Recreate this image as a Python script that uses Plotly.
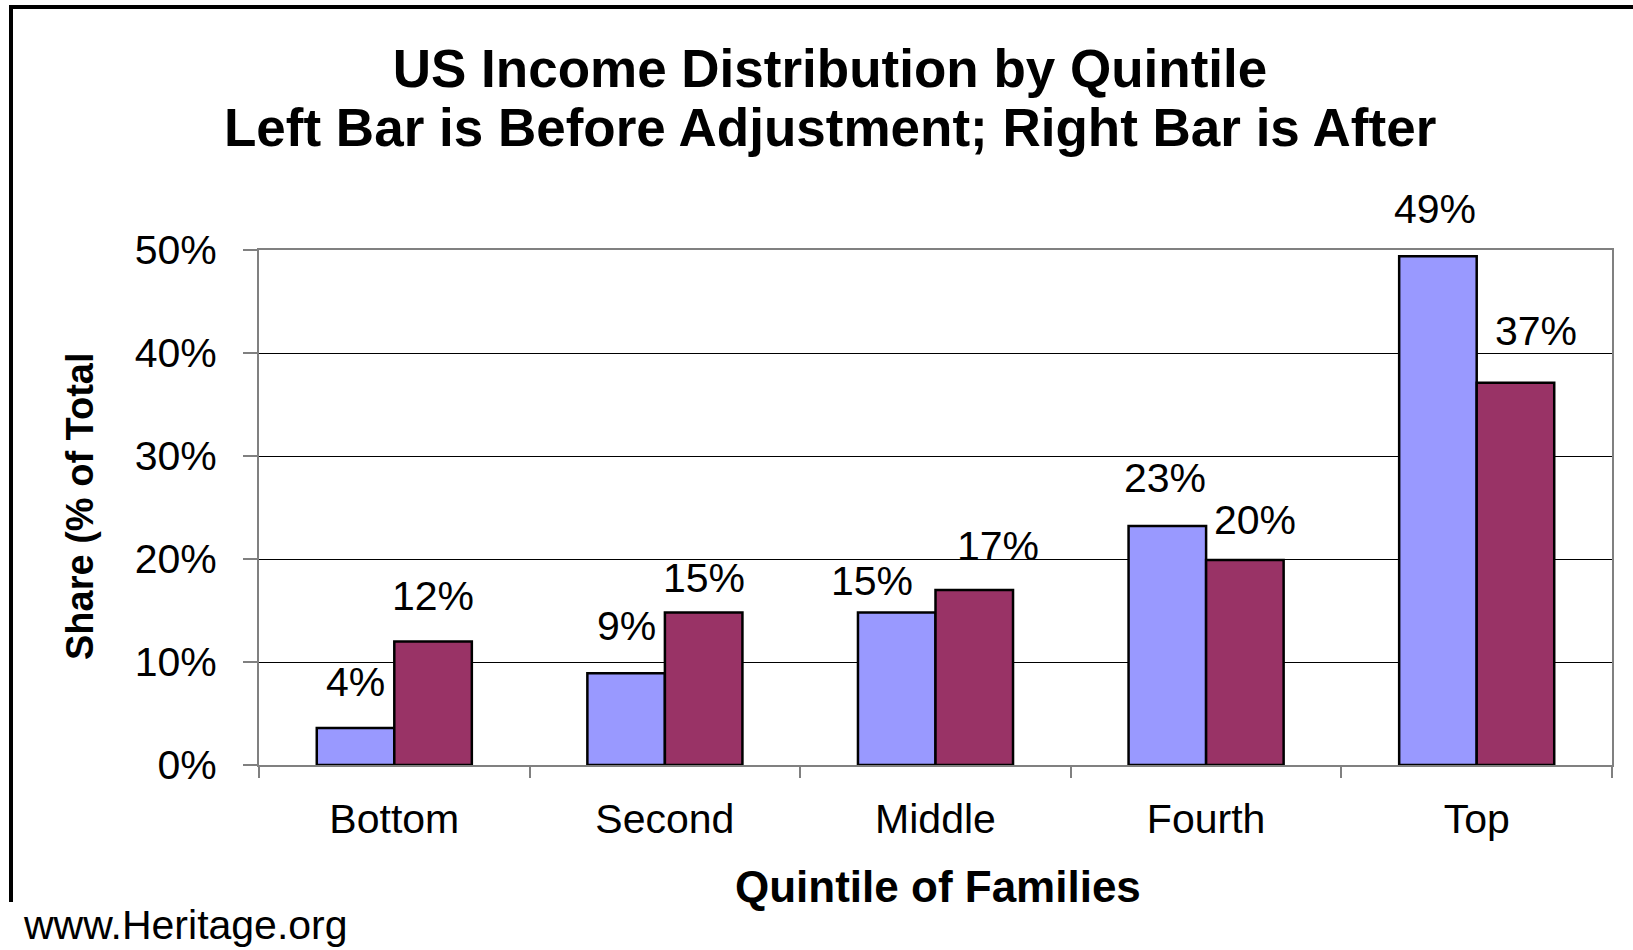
import plotly.graph_objects as go

# ---- data ----
quintiles = ["Bottom", "Second", "Middle", "Fourth", "Top"]
before_adjustment = [3.6, 8.9, 14.8, 23.2, 49.4]
after_adjustment = [12.0, 14.8, 17.0, 19.9, 37.1]
before_labels = ["4%", "9%", "15%", "23%", "49%"]
after_labels = ["12%", "15%", "17%", "20%", "37%"]
y_tick_values = [0, 10, 20, 30, 40, 50]
y_tick_labels = ["0%", "10%", "20%", "30%", "40%", "50%"]
title_line1 = "US Income Distribution by Quintile"
title_line2 = "Left Bar is Before Adjustment; Right Bar is After"

# ---- style / layout constants (pixels) ----
W, H = 1633, 950
ML, MR, MT, MB = 259, 21, 250, 185
PW, PH = W - ML - MR, H - MT - MB
BARGAP = 0.427
FONT = "Liberation Sans, Arial, Helvetica, sans-serif"
BLUE, PLUM = "#9999FF", "#993366"
LABEL_GAP = 21  # base vertical offset of value labels
# per-label nudges (dx, dy) in pixels, mimicking the original label placement
before_nudge = [(0, 0), (0, 1), (-25, -14), (-2, 2), (-3, 1)]
after_nudge = [(0, -1), (0, -11), (24, -2), (10, -6), (21, 6)]


def px_x(px):
    return (px - ML) / PW


def px_y(py):
    return (H - MB - py) / PH


fig = go.Figure()
fig.add_trace(go.Bar(name="Before", x=quintiles, y=before_adjustment,
                     marker=dict(color=BLUE, line=dict(color="black", width=2.5))))
fig.add_trace(go.Bar(name="After", x=quintiles, y=after_adjustment,
                     marker=dict(color=PLUM, line=dict(color="black", width=2.5))))

cat_px = PW / len(quintiles)
half_bar = cat_px * (1 - BARGAP) / 4

annotations = []
for i, q in enumerate(quintiles):
    for vals, labs, nudge, sign in ((before_adjustment, before_labels, before_nudge, -1),
                                    (after_adjustment, after_labels, after_nudge, 1)):
        dx, dy = nudge[i]
        annotations.append(dict(
            x=q, y=vals[i], xref="x", yref="y", text=labs[i], showarrow=False,
            xanchor="center", yanchor="bottom",
            xshift=sign * half_bar + dx, yshift=LABEL_GAP + dy,
            font=dict(family=FONT, size=41, color="black")))

# second title line
annotations.append(dict(text=title_line2, x=px_x(830), y=px_y(128),
                        xref="paper", yref="paper", showarrow=False,
                        xanchor="center", yanchor="middle",
                        font=dict(family=FONT, size=53, color="black", weight="bold")))

# axis titles & source
annotations.append(dict(text="Quintile of Families", x=px_x(938), y=px_y(886),
                        xref="paper", yref="paper", showarrow=False,
                        xanchor="center", yanchor="middle",
                        font=dict(family=FONT, size=44, color="black", weight="bold")))
annotations.append(dict(text="Share (% of Total", x=px_x(80), y=px_y(506),
                        xref="paper", yref="paper", showarrow=False, textangle=-90,
                        xanchor="center", yanchor="middle",
                        font=dict(family=FONT, size=38, color="black", weight="bold")))
annotations.append(dict(text="www.Heritage.org", x=px_x(21), y=px_y(925),
                        xref="paper", yref="paper", showarrow=False,
                        xanchor="left", yanchor="middle",
                        font=dict(family=FONT, size=41, color="black")))

shapes = [
    dict(type="line", xref="paper", yref="paper", x0=px_x(11), x1=px_x(W + 5),
         y0=px_y(7), y1=px_y(7), line=dict(color="black", width=4)),
    dict(type="line", xref="paper", yref="paper", x0=px_x(11), x1=px_x(11),
         y0=px_y(5), y1=px_y(902), line=dict(color="black", width=4)),
]

fig.update_layout(
    width=W, height=H,
    margin=dict(l=ML, r=MR, t=MT, b=MB, autoexpand=False),
    paper_bgcolor="white", plot_bgcolor="white",
    barmode="group", bargap=BARGAP, bargroupgap=0,
    showlegend=False,
    title=dict(text=title_line1,
               x=830 / W, xref="container", xanchor="center",
               y=1 - 68 / H, yref="container", yanchor="middle",
               font=dict(family=FONT, size=53, color="black", weight="bold")),
    font=dict(family=FONT, color="black"),
    annotations=annotations,
    shapes=shapes,
)
fig.update_xaxes(
    type="category", showgrid=False, zeroline=False,
    showline=True, mirror=True, linecolor="#808080", linewidth=2,
    ticks="outside", tickson="boundaries", ticklen=11, tickcolor="#808080", tickwidth=1.5,
    tickfont=dict(family=FONT, size=41, color="black"), ticklabelstandoff=17,
)
fig.update_yaxes(
    range=[0, 50], tickvals=y_tick_values, ticktext=y_tick_labels,
    showgrid=True, gridcolor="black", gridwidth=1, zeroline=False,
    showline=True, mirror=True, linecolor="#808080", linewidth=2,
    ticks="outside", ticklen=14, tickcolor="#808080", tickwidth=1.5,
    tickfont=dict(family=FONT, size=41, color="black"), ticklabelstandoff=18,
)

fig.write_html("out.html", config={"displayModeBar": False},
               post_script="document.body.style.margin='0px';")
